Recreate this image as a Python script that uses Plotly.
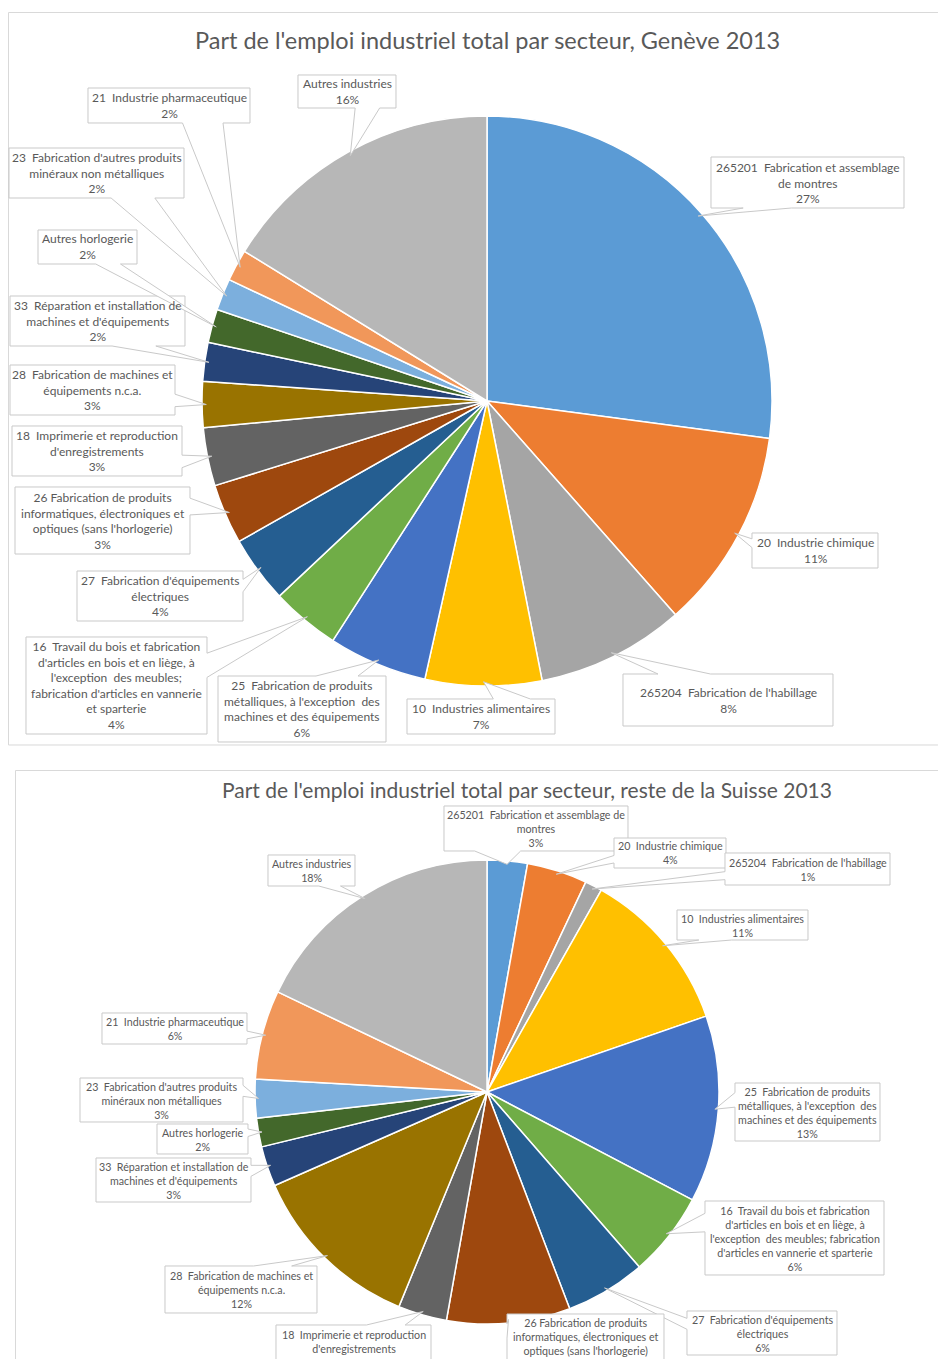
import math
import plotly.graph_objects as go

# page has an 8px body margin: the figure is sized to fit inside the 951x1367 window
OFF = 8
W, H = 951 - 2 * OFF, 1367 - 2 * OFF

# ---------------- data ----------------
categories = [
    "265201 Fabrication et assemblage de montres", "20 Industrie chimique",
    "265204 Fabrication de l'habillage", "10 Industries alimentaires",
    "25 Fabrication de produits métalliques", "16 Travail du bois",
    "27 Fabrication d'équipements électriques", "26 Fabrication de produits informatiques",
    "18 Imprimerie et reproduction", "28 Fabrication de machines",
    "33 Réparation et installation", "Autres horlogerie",
    "23 Fabrication d'autres produits minéraux", "21 Industrie pharmaceutique",
    "Autres industries",
]
colors = ["#5B9BD5", "#ED7D31", "#A5A5A5", "#FFC000", "#4472C4", "#70AD47", "#255E91",
          "#9E480E", "#636363", "#997300", "#264478", "#43682B", "#7CAFDD", "#F1975A", "#B7B7B7"]

geneve_values = [27.1, 11.4, 8.4, 6.6, 5.6, 3.9, 3.8, 3.4, 3.3, 2.6, 2.2, 1.9, 1.8, 1.8, 16.2]
geneve_pct = [27, 11, 8, 7, 6, 4, 4, 3, 3, 3, 2, 2, 2, 2, 16]
suisse_values = [2.8, 4.2, 1.2, 11.5, 13.0, 5.9, 5.6, 8.6, 3.4, 12.2, 2.8, 2.0, 2.7, 6.2, 17.9]
suisse_pct = [3, 4, 1, 11, 13, 6, 6, 9, 3, 12, 3, 2, 3, 6, 18]

geneve_labels = [
    "265201  Fabrication et assemblage<br>de montres",
    "20  Industrie chimique",
    "265204  Fabrication de l'habillage",
    "10  Industries alimentaires",
    "25  Fabrication de produits<br>métalliques, à l'exception  des<br>machines et des équipements",
    "16  Travail du bois et fabrication<br>d'articles en bois et en liège, à<br>l'exception  des meubles;<br>fabrication d'articles en vannerie<br>et sparterie",
    "27  Fabrication d'équipements<br>électriques",
    "26 Fabrication de produits<br>informatiques, électroniques et<br>optiques (sans l'horlogerie)",
    "18  Imprimerie et reproduction<br>d'enregistrements",
    "28  Fabrication de machines et<br>équipements n.c.a.",
    "33  Réparation et installation de<br>machines et d'équipements",
    "Autres horlogerie",
    "23  Fabrication d'autres produits<br>minéraux non métalliques",
    "21  Industrie pharmaceutique",
    "Autres industries",
]
suisse_labels = [
    "265201  Fabrication et assemblage de<br>montres",
    "20  Industrie chimique",
    "265204  Fabrication de l'habillage",
    "10  Industries alimentaires",
    "25  Fabrication de produits<br>métalliques, à l'exception  des<br>machines et des équipements",
    "16  Travail du bois et fabrication<br>d'articles en bois et en liège, à<br>l'exception  des meubles; fabrication<br>d'articles en vannerie et sparterie",
    "27  Fabrication d'équipements<br>électriques",
    "26 Fabrication de produits<br>informatiques, électroniques et<br>optiques (sans l'horlogerie)",
    "18  Imprimerie et reproduction<br>d'enregistrements",
    "28  Fabrication de machines et<br>équipements n.c.a.",
    "33  Réparation et installation de<br>machines et d'équipements",
    "Autres horlogerie",
    "23  Fabrication d'autres produits<br>minéraux non métalliques",
    "21  Industrie pharmaceutique",
    "Autres industries",
]

title_geneve = "Part de l'emploi industriel total par secteur, Genève 2013"
title_suisse = "Part de l'emploi industriel total par secteur, reste de la Suisse 2013"

# ---------------- layout (window pixels) ----------------
geneve_boxes = [(711, 157, 904, 208), (752, 533, 878, 568), (623, 674, 833, 726),
                (407, 699, 555, 734), (218, 676, 386, 742), (26, 637, 207, 734),
                (77, 571, 243, 621), (15, 487, 190, 554), (12, 426, 182, 476),
                (10, 365, 175, 415), (10, 296, 185, 346), (38, 230, 137, 264),
                (9, 148, 184, 198), (88, 88, 250, 123), (298, 75, 396, 108)]
suisse_boxes = [(444, 806, 628, 851), (614, 838, 726, 868), (725, 853, 890, 885),
                (677, 910, 808, 940), (735, 1083, 880, 1141), (705, 1201, 884, 1275),
                (687, 1311, 837, 1355), (507, 1314, 664, 1372), (276, 1325, 431, 1372),
                (165, 1266, 317, 1313), (96, 1158, 251, 1202), (157, 1124, 248, 1154),
                (80, 1078, 243, 1122), (102, 1013, 247, 1044), (268, 855, 355, 886)]

PIE1 = (487, 401, 285)
PIE2 = (487, 1092, 232)
FONT = "Lato, 'Open Sans', sans-serif"
TXT = "#595959"
BORDER = "#C9C9C9"
FRAME = "#D9D9D9"


def px(x):
    return (x - OFF) / W


def py(y):
    return 1 - (y - OFF) / H


def tips(values, cx, cy, r, f=0.985):
    tot = sum(values)
    cum = 0
    out = []
    for v in values:
        mid = (cum + v / 2) / tot * 2 * math.pi
        out.append((cx + r * f * math.sin(mid), cy - r * f * math.cos(mid)))
        cum += v
    return out


def path_of(pts, close=True):
    d = "M " + " L ".join(f"{px(x):.5f},{py(y):.5f}" for x, y in pts)
    return d + (" Z" if close else "")


def callout_path(x0, y0, x1, y1, tx, ty):
    w, h = x1 - x0, y1 - y0
    cx, cy = (x0 + x1) / 2, (y0 + y1) / 2
    dx, dy = tx - cx, ty - cy
    dq = dx * h / w
    if abs(dy) > abs(dq):
        a = x0 + w * (7 if dx > 0 else 2) / 12
        b = x0 + w * (10 if dx > 0 else 5) / 12
        if dy > 0:
            pts = [(x0, y0), (x1, y0), (x1, y1), (b, y1), (tx, ty), (a, y1), (x0, y1)]
        else:
            pts = [(x0, y0), (a, y0), (tx, ty), (b, y0), (x1, y0), (x1, y1), (x0, y1)]
    else:
        a = y0 + h * (7 if dy > 0 else 2) / 12
        b = y0 + h * (10 if dy > 0 else 5) / 12
        if dx > 0:
            pts = [(x0, y0), (x1, y0), (x1, a), (tx, ty), (x1, b), (x1, y1), (x0, y1)]
        else:
            pts = [(x0, y0), (x1, y0), (x1, y1), (x0, y1), (x0, b), (tx, ty), (x0, a)]
    return path_of(pts)


fig = go.Figure()


def add_pie(values, pie):
    cx, cy, r = pie
    fig.add_trace(go.Pie(
        labels=categories, values=values, sort=False, direction="clockwise", rotation=0,
        marker=dict(colors=colors, line=dict(color="white", width=1.5)),
        textinfo="none", showlegend=False, hoverinfo="label+percent",
        domain=dict(x=[px(cx - r), px(cx + r)], y=[py(cy + r), py(cy - r)]),
    ))


add_pie(geneve_values, PIE1)
add_pie(suisse_values, PIE2)

shapes = []
annotations = []

# chart frames (right side runs past the window edge)
XR = 938
shapes.append(dict(type="path", xref="paper", yref="paper",
                   path=path_of([(XR, 745), (8.5, 745), (8.5, 12.5), (XR, 12.5)], close=False),
                   line=dict(color=FRAME, width=1), layer="below"))
shapes.append(dict(type="path", xref="paper", yref="paper",
                   path=path_of([(15.5, 1367), (15.5, 770.5), (XR, 770.5)], close=False),
                   line=dict(color=FRAME, width=1), layer="below"))


def add_callouts(values, pct, labels, boxes, pie, fsize):
    cx, cy, r = pie
    tp = tips(values, cx, cy, r)
    for (x0, y0, x1, y1), (tx, ty), lab, p in zip(boxes, tp, labels, pct):
        shapes.append(dict(type="path", xref="paper", yref="paper",
                           path=callout_path(x0, y0, x1, y1, tx, ty),
                           line=dict(color=BORDER, width=1), fillcolor="white", layer="above"))
        annotations.append(dict(xref="paper", yref="paper", x=px((x0 + x1) / 2), y=py((y0 + y1) / 2),
                                xanchor="center", yanchor="middle", showarrow=False, align="center",
                                text=f"{lab}<br>{p}%", font=dict(family=FONT, size=fsize, color=TXT)))


add_callouts(geneve_values, geneve_pct, geneve_labels, geneve_boxes, PIE1, 12)
add_callouts(suisse_values, suisse_pct, suisse_labels, suisse_boxes, PIE2, 10.7)

annotations.append(dict(xref="paper", yref="paper", x=px(487), y=py(40), xanchor="center", yanchor="middle",
                        showarrow=False, text=title_geneve, font=dict(family=FONT, size=23.5, color=TXT)))
annotations.append(dict(xref="paper", yref="paper", x=px(527), y=py(789), xanchor="center", yanchor="middle",
                        showarrow=False, text=title_suisse, font=dict(family=FONT, size=21, color=TXT)))

fig.update_layout(width=W, height=H, margin=dict(l=0, r=0, t=0, b=0),
                  paper_bgcolor="white", plot_bgcolor="white",
                  shapes=shapes, annotations=annotations)

fig.write_html("out.html")
